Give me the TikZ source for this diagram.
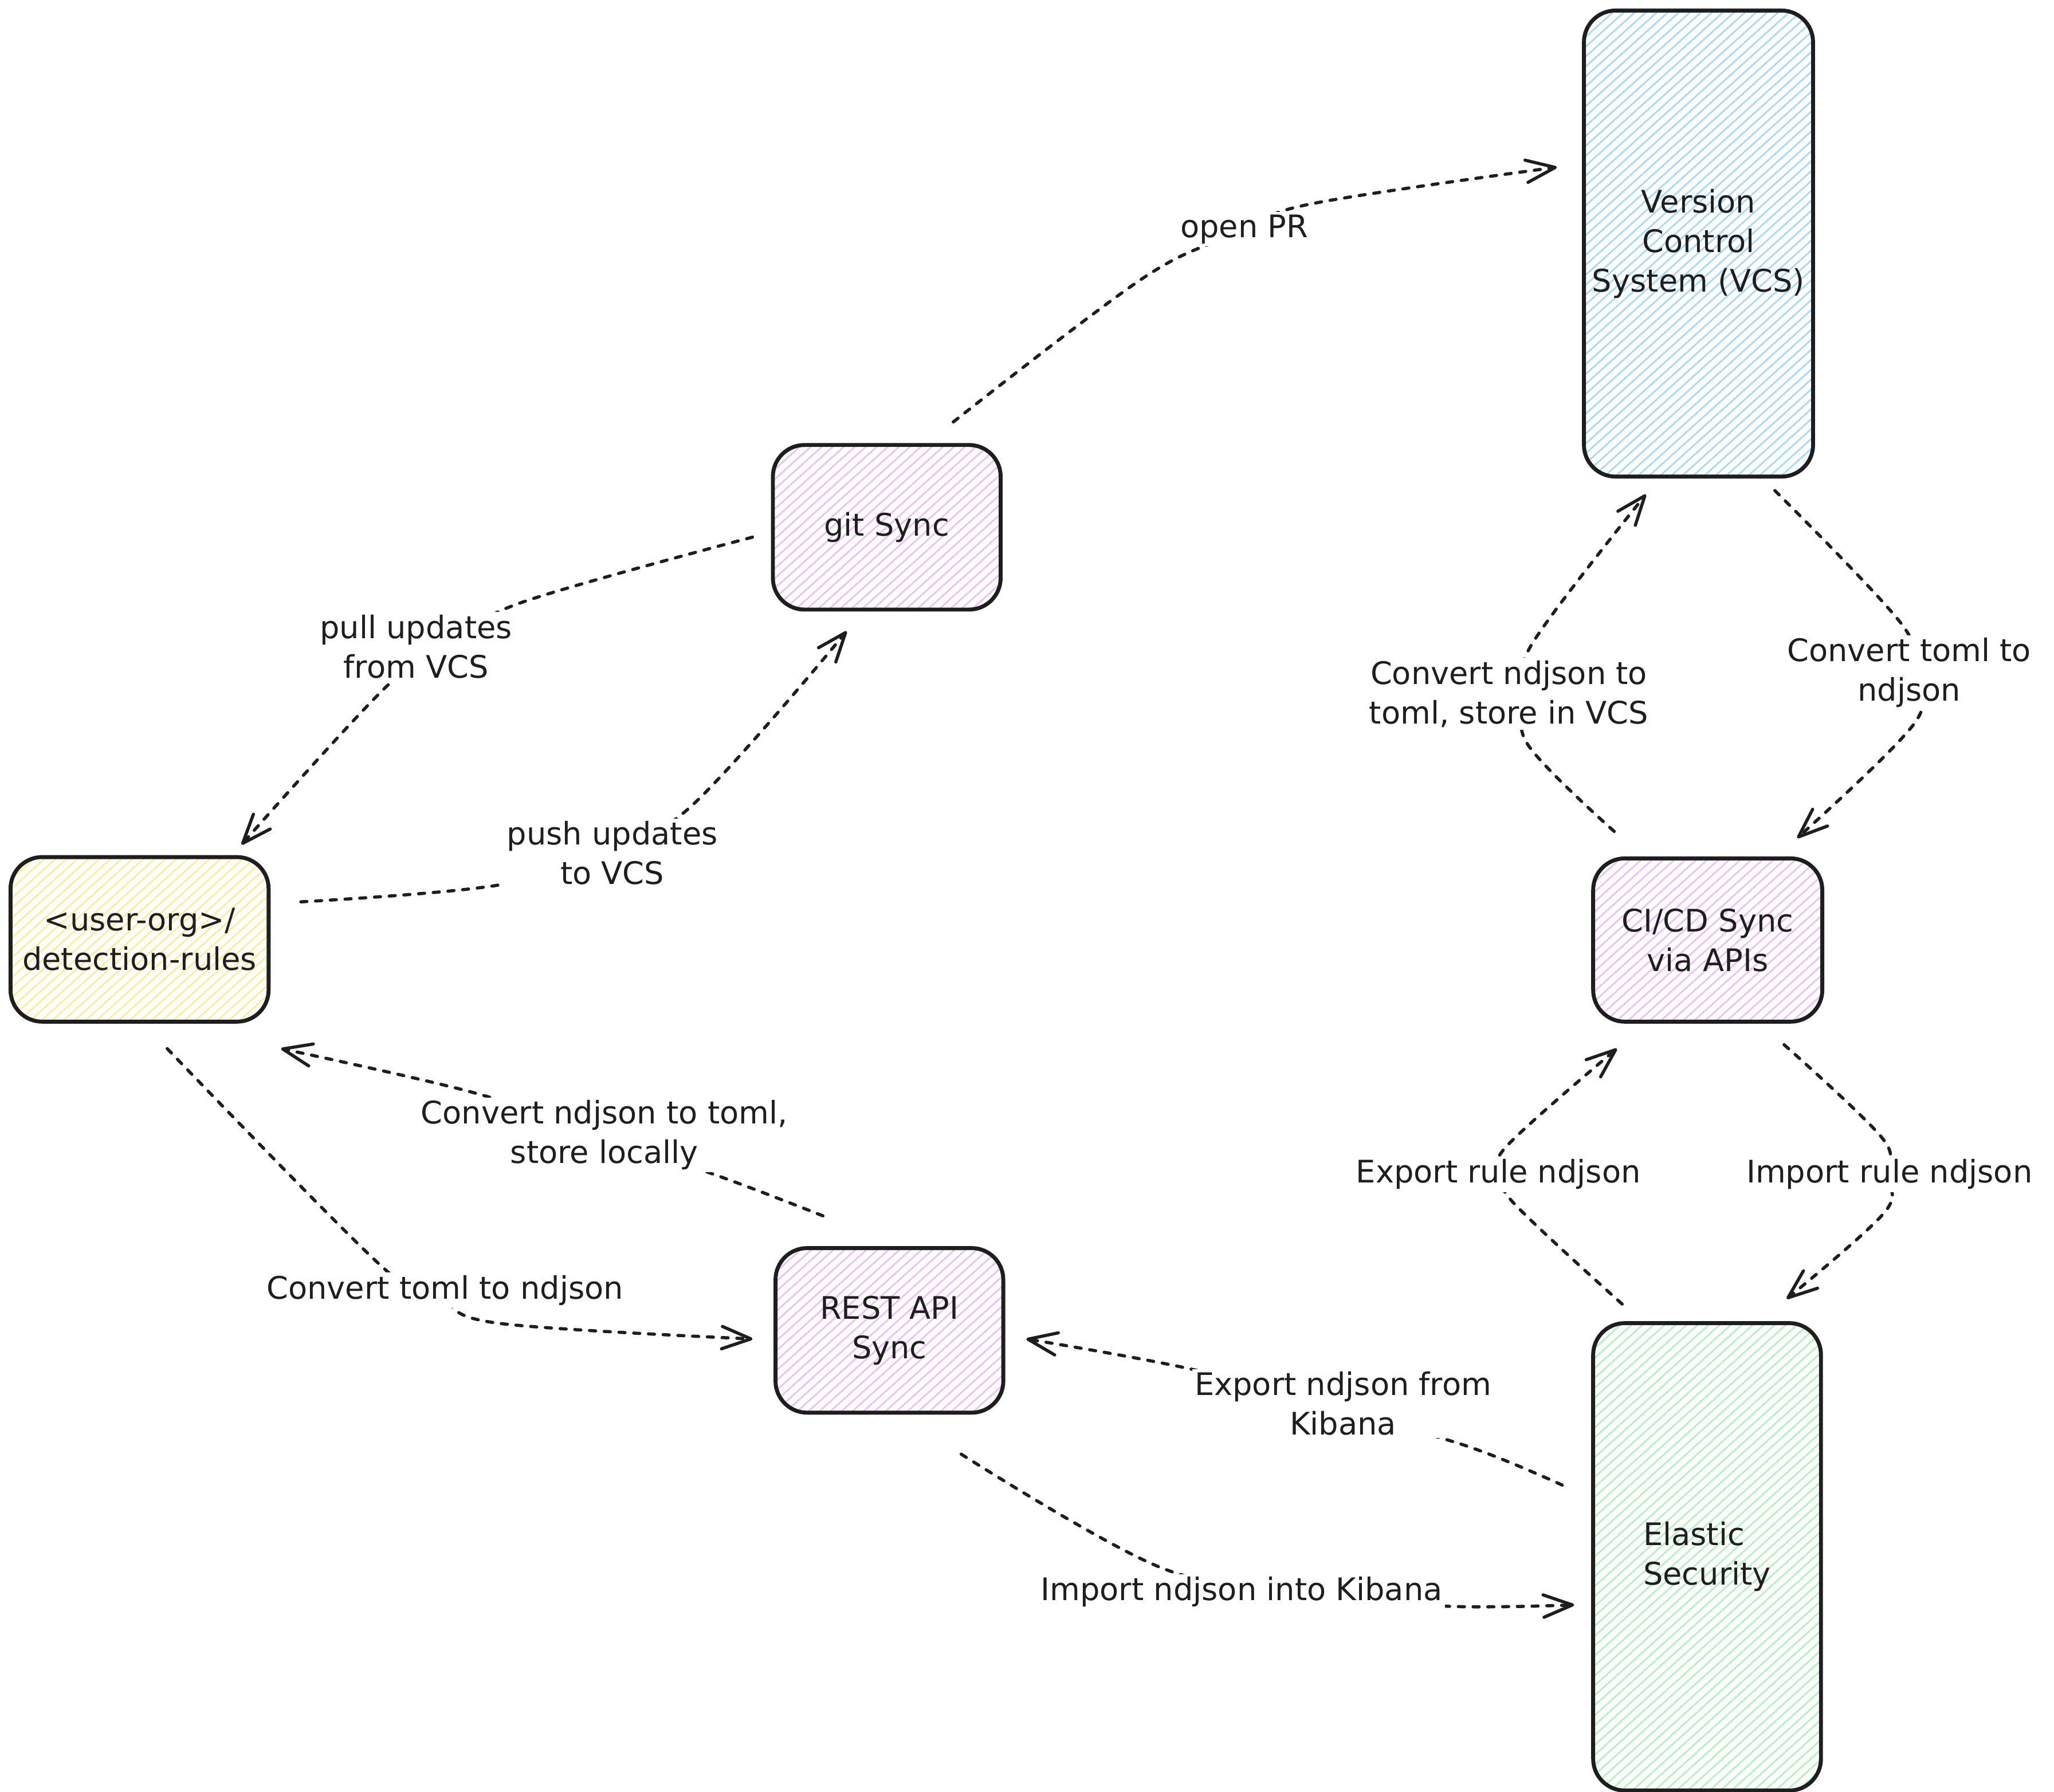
\documentclass[tikz,border=0pt]{standalone}
\usepackage{fontspec}
\setmainfont{DejaVu Sans}
\usetikzlibrary{arrows.meta,patterns.meta,calc}
\definecolor{ink}{HTML}{1E1E1E}
\definecolor{hblue}{HTML}{A5D8FF}
\definecolor{hpurple}{HTML}{EEBEFA}
\definecolor{hyellow}{HTML}{FFEC99}
\definecolor{hgreen}{HTML}{B2F2BB}
\newcommand{\txtfont}{\fontsize{11.8}{15}\selectfont}
\tikzset{
  box/.style={draw=ink, line width=1.5pt, rounded corners=12pt, align=center,
    text=ink, font=\txtfont, inner sep=2pt},
  hatch/.style={pattern={Lines[angle=42,distance=2.8pt,line width=0.6pt]}, pattern color=#1},
  conn/.style={draw=ink, line width=1.2pt, dash pattern=on 2.3pt off 3.3pt, line cap=round,
    -{Straight Barb[length=11pt,width=8.5pt,line width=1.2pt,round]}},
  lab/.style={fill=white, inner sep=1pt, align=center, text=ink, font=\txtfont},
}
\begin{document}
\begin{tikzpicture}[x=0.5pt,y=-0.5pt]
\useasboundingbox (0,0) rectangle (1560,1361);

% boxes
\node[box, hatch=hblue, minimum width=87pt, minimum height=177pt] (vcs) at (1290,185) {Version\\Control\\System (VCS)};
\node[box, hatch=hpurple, minimum width=86.5pt, minimum height=62.5pt] (git) at (673.5,400.5) {git Sync};
\node[box, hatch=hyellow, minimum width=98pt, minimum height=62.5pt] (user) at (106,713.5) {<user-org>/\\detection-rules};
\node[box, hatch=hpurple, minimum width=87pt, minimum height=62pt] (cicd) at (1297,714) {CI/CD Sync\\via APIs};
\node[box, hatch=hpurple, minimum width=86.5pt, minimum height=62.5pt] (rest) at (675.5,1010.5) {REST API\\Sync};
\node[box, hatch=hgreen, minimum width=86.5pt, minimum height=177.5pt, align=left] (elastic) at (1296.5,1182.5) {Elastic\\Security};

% connector end points
\coordinate (s1) at ($(git.north)+(50.5,-16)$);
\coordinate (e1) at ($(vcs.west)+(-20,-58)$);
\coordinate (s2) at ($(git.west)+(-14,7.5)$);
\coordinate (e2) at ($(user.north east)+(-22,-8)$);
\coordinate (s3) at ($(user.east)+(23,-28.5)$);
\coordinate (e3) at ($(git.south)+(-30.5,15)$);
\coordinate (s4) at ($(rest.north)+(-50.5,-23)$);
\coordinate (e4) at ($(user.south east)+(8,19)$);
\coordinate (s5) at ($(user.south)+(21,19)$);
\coordinate (e5) at ($(rest.west)+(-16,6.5)$);
\coordinate (s6) at ($(elastic.west)+(-22,-54.5)$);
\coordinate (e6) at ($(rest.east)+(16,6.5)$);
\coordinate (s7) at ($(rest.south)+(54.5,30)$);
\coordinate (e7) at ($(elastic.west)+(-13,36.5)$);
\coordinate (s8) at ($(cicd.north)+(-71,-19)$);
\coordinate (e8) at ($(vcs.south)+(-40,13)$);
\coordinate (s9) at ($(vcs.south)+(58,10)$);
\coordinate (e9) at ($(cicd.north)+(68,-14)$);
\coordinate (s10) at ($(elastic.north)+(-64.5,-13)$);
\coordinate (e10) at ($(cicd.south)+(-69,19)$);
\coordinate (s11) at ($(cicd.south)+(58,16)$);
\coordinate (e11) at ($(elastic.north)+(60.5,-17)$);

% connectors
\draw[conn] plot[smooth, tension=0.6] coordinates {(s1) (870,210) (945,176) (995,155) (e1)};
\draw[conn] plot[smooth, tension=0.6] coordinates {(s2) (395,458) (345,489) (295,520) (e2)};
\draw[conn] plot[smooth, tension=0.6] coordinates {(s3) (380,672) (451,645) (522,615) (e3)};
\draw[conn] plot[smooth, tension=0.6] coordinates {(s4) (545,893) (452,862) (360,830) (e4)};
\draw[conn] plot[smooth, tension=0.6] coordinates {(s5) (290,962) (334,985) (378,1005) (e5)};
\draw[conn] plot[smooth, tension=0.6] coordinates {(s6) (1113,1098) (1009,1069) (905,1040) (e6)};
\draw[conn] plot[smooth, tension=0.6] coordinates {(s7) (880,1190) (990,1210) (1098,1220) (e7)};
\draw[conn] plot[smooth, tension=0.6] coordinates {(s8) (1160,565) (1161,527) (1163,490) (e8)};
\draw[conn] plot[smooth, tension=0.6] coordinates {(s9) (1445,475) (1450,511) (1455,548) (e9)};
\draw[conn] plot[smooth, tension=0.6] coordinates {(s10) (1148,912) (1145,892) (1143,872) (e10)};
\draw[conn] plot[smooth, tension=0.6] coordinates {(s11) (1430,865) (1431,892) (1432,920) (e11)};

% labels
\node[lab] (l1) at (945,174) {open PR};
\node[lab] (l2) at (316,491) {pull updates\\from VCS};
\node[lab] (l3) at (465,648) {push updates\\to VCS};
\node[lab] (l4) at (459,862) {Convert ndjson to toml,\\store locally};
\node[lab] (l5) at (338,980) {Convert toml to ndjson};
\node[lab] (l6) at (1020,1066) {Export ndjson from\\Kibana};
\node[lab] (l7) at (943,1209) {Import ndjson into Kibana};
\node[lab] (l8) at (1146,527) {Convert ndjson to\\toml, store in VCS};
\node[lab] (l9) at (1450,511) {Convert toml to\\ndjson};
\node[lab] (l10) at (1138,892) {Export rule ndjson};
\node[lab] (l11) at (1435,892) {Import rule ndjson};
\end{tikzpicture}
\end{document}
